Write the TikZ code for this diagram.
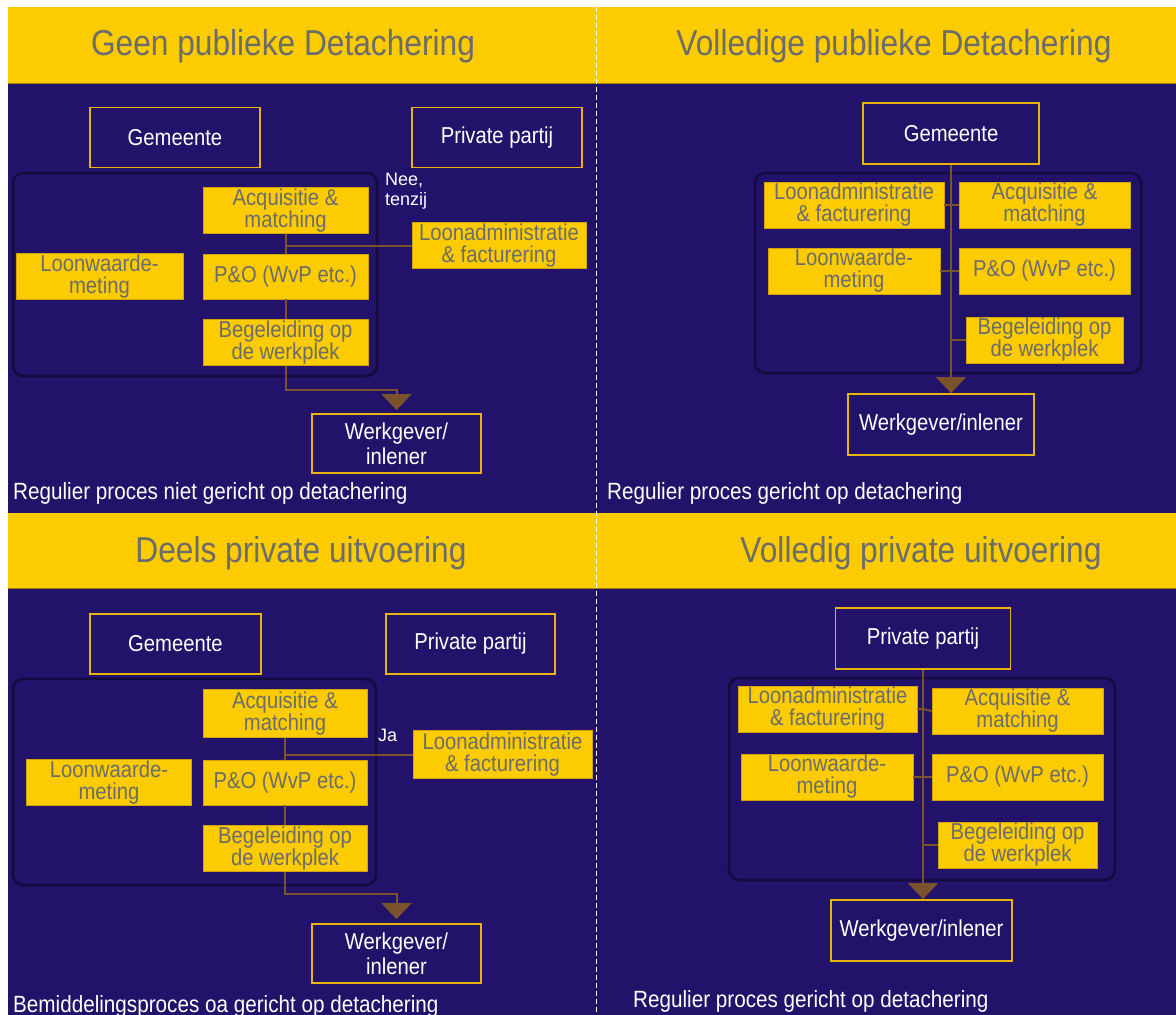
\documentclass[tikz,border=0pt]{standalone}
\usepackage{fontspec}
\setmainfont[FakeStretch=0.88]{Liberation Sans}
\newfontfamily\etiketfont{Liberation Sans}
\usetikzlibrary{arrows.meta}

\definecolor{navy}{HTML}{22126A}
\definecolor{geel}{HTML}{FCCB00}
\definecolor{goud}{HTML}{E8B40A}
\definecolor{bruin}{HTML}{7A522C}
\definecolor{grijs}{HTML}{6C6C6C}
\definecolor{donker}{HTML}{140A3E}

\begin{document}
\begin{tikzpicture}[x=1pt, y=-1pt, node distance=66pt, >={Triangle[width=30pt,length=16pt]},
    navybox/.style={rectangle, draw=goud, line width=1.8pt, fill=navy, text=white,
        minimum width=170pt, minimum height=60pt, align=center, font=\fontsize{23}{25}\selectfont},
    geelbox/.style={rectangle, draw=goud!90!black, line width=0.8pt, fill=geel, text=grijs,
        minimum width=165pt, minimum height=45pt, inner sep=1pt, align=center, font=\fontsize{23}{22}\selectfont},
    groep/.style={draw=donker, line width=2.5pt, rounded corners=10pt},
    titel/.style={anchor=base, text=grijs, font=\fontsize{36}{36}\selectfont},
    onder/.style={anchor=base west, inner sep=0pt, text=white, font=\fontsize{23.5}{24}\selectfont},
    etiket/.style={anchor=west, inner sep=0pt, align=left, text=white, font=\etiketfont\fontsize{18}{20}\selectfont},
    lijn/.style={draw=bruin, line width=2pt}]
    \useasboundingbox (0,0) rectangle (1176,1015);
    \fill[white] (0,0) rectangle (1176,1015);
    \fill[navy] (8,7) rectangle (1176,1015);
    \fill[geel] (8,7) rectangle (1176,83);
    \fill[geel] (8,513) rectangle (1176,588);
    \draw[goud!70!black, line width=1pt] (8,83) -- (1176,83);
    \draw[goud!70!black, line width=1pt] (8,588) -- (1176,588);
    \draw[white, line width=1.8pt, dash pattern=on 5pt off 3pt] (596.5,7) -- (596.5,1015);

    \node[titel] (titel1) at (283,55) {Geen publieke Detachering};
    \draw[groep] (13,173) rectangle (377,376);
    \node[navybox] (gem1) at (175,137.5) {Gemeente};
    \node[navybox] (priv1) at (497,137.5) {Private partij};
    \node[geelbox] (acq1) at (285.5,210.5) {Acquisitie \&\\matching};
    \node[geelbox,below of=acq1] (pen1) {P\&O (WvP etc.)};
    \node[geelbox,below of=pen1] (begel1) {Begeleiding op\\de werkplek};
    \node[geelbox,left of=pen1,xshift=-120pt,minimum width=167pt] (loonw1) {Loonwaarde-\\meting};
    \node[geelbox,minimum width=174pt] (loonadm1) at (499,245.5) {Loonadministratie\\\& facturering};
    \node[navybox,minimum width=169pt,minimum height=59pt] (werk1) at (396.5,443.5) {Werkgever/\\inlener};
    \node[etiket] (nee1) at (385,191) {Nee,\\tenzij};
    \node[onder] (onder1) at (13,499) {Regulier proces niet gericht op detachering};
    \draw[lijn] (acq1) -- (pen1);
    \draw[lijn] (pen1) -- (begel1);
    \draw[lijn] (loonadm1.west) -- (loonadm1.west -| acq1.south);
    \draw[lijn,->,shorten >=3pt] (begel1.south) -- ++(0,24) -| (werk1.north);

    \node[titel] (titel2) at (894,55) {Volledige publieke Detachering};
    \draw[groep] (755,173) rectangle (1141,373);
    \node[navybox,minimum width=176pt,minimum height=61pt] (gem2) at (951,133.5) {Gemeente};
    \node[geelbox,minimum width=171pt,minimum height=46pt] (acq2) at (1044.5,205) {Acquisitie \&\\matching};
    \node[geelbox,below of=acq2,minimum width=171pt,minimum height=46pt] (pen2) {P\&O (WvP etc.)};
    \node[geelbox,below of=pen2,yshift=-3pt,minimum width=157pt,minimum height=46pt] (begel2) {Begeleiding op\\de werkplek};
    \node[geelbox,left of=acq2,xshift=-124.5pt,minimum width=180pt,minimum height=46pt] (loonadm2) {Loonadministratie\\\& facturering};
    \node[geelbox,left of=pen2,xshift=-124.5pt,minimum width=172pt,minimum height=46pt] (loonw2) {Loonwaarde-\\meting};
    \node[navybox,minimum width=186pt,minimum height=61pt] (werk2) at (941,424.5) {Werkgever/inlener};
    \node[onder] (onder2) at (607,499) {Regulier proces gericht op detachering};
    \draw[lijn,->] (gem2.south) -- (gem2.south |- werk2.north);
    \draw[lijn] (loonadm2) -- (acq2);
    \draw[lijn] (loonw2) -- (pen2);
    \draw[lijn] (begel2.west) -- (begel2.west -| gem2.south);

    \node[titel] (titel3) at (301,562) {Deels private uitvoering};
    \draw[groep] (13,679) rectangle (376,885);
    \node[navybox,minimum width=171pt] (gem3) at (175.5,644) {Gemeente};
    \node[navybox,minimum width=169pt] (priv3) at (470.5,644) {Private partij};
    \node[geelbox,minimum width=164pt,minimum height=48pt] (acq3) at (285,713.5) {Acquisitie \&\\matching};
    \node[geelbox,below of=acq3,yshift=-3pt,minimum width=164pt] (pen3) {P\&O (WvP etc.)};
    \node[geelbox,below of=pen3,minimum width=164pt] (begel3) {Begeleiding op\\de werkplek};
    \node[geelbox,left of=pen3,xshift=-110pt] (loonw3) {Loonwaarde-\\meting};
    \node[geelbox,minimum width=179pt,minimum height=48pt] (loonadm3) at (502.5,754.5) {Loonadministratie\\\& facturering};
    \node[navybox,minimum width=169pt,minimum height=59pt] (werk3) at (396.5,953.5) {Werkgever/\\inlener};
    \node[etiket] (ja3) at (378,735) {Ja};
    \node[onder] (onder3) at (13,1012) {Bemiddelingsproces oa gericht op detachering};
    \draw[lijn] (acq3) -- (pen3);
    \draw[lijn] (pen3) -- (begel3);
    \draw[lijn] (loonadm3.west) -- (loonadm3.west -| acq3.south);
    \draw[lijn,->,shorten >=4pt] (begel3.south) -- ++(0,22) -| (werk3.north);

    \node[titel] (titel4) at (921,562) {Volledig private uitvoering};
    \draw[groep] (729,678) rectangle (1115,880);
    \node[navybox,minimum width=175pt,minimum height=61pt] (priv4) at (923,638.5) {Private partij};
    \node[geelbox,minimum width=171pt,minimum height=46pt] (acq4) at (1017.5,711) {Acquisitie \&\\matching};
    \node[geelbox,below of=acq4,minimum width=171pt,minimum height=46pt] (pen4) {P\&O (WvP etc.)};
    \node[geelbox,below of=pen4,yshift=-2pt,minimum width=159pt,minimum height=46pt] (begel4) {Begeleiding op\\de werkplek};
    \node[geelbox,left of=acq4,xshift=-124pt,yshift=2pt,minimum width=179pt,minimum height=46pt] (loonadm4) {Loonadministratie\\\& facturering};
    \node[geelbox,left of=pen4,xshift=-124.5pt,minimum width=172pt,minimum height=46pt] (loonw4) {Loonwaarde-\\meting};
    \node[navybox,minimum width=181pt,minimum height=61pt] (werk4) at (921.5,930.5) {Werkgever/inlener};
    \node[onder] (onder4) at (633,1007) {Regulier proces gericht op detachering};
    \draw[lijn,->] (priv4.south) -- (priv4.south |- werk4.north);
    \draw[lijn] (loonadm4.east) -- (loonadm4.east -| priv4.south) -- (acq4.west);
    \draw[lijn] (loonw4) -- (pen4);
    \draw[lijn] (begel4.west) -- (begel4.west -| priv4.south);
\end{tikzpicture}
\end{document}
